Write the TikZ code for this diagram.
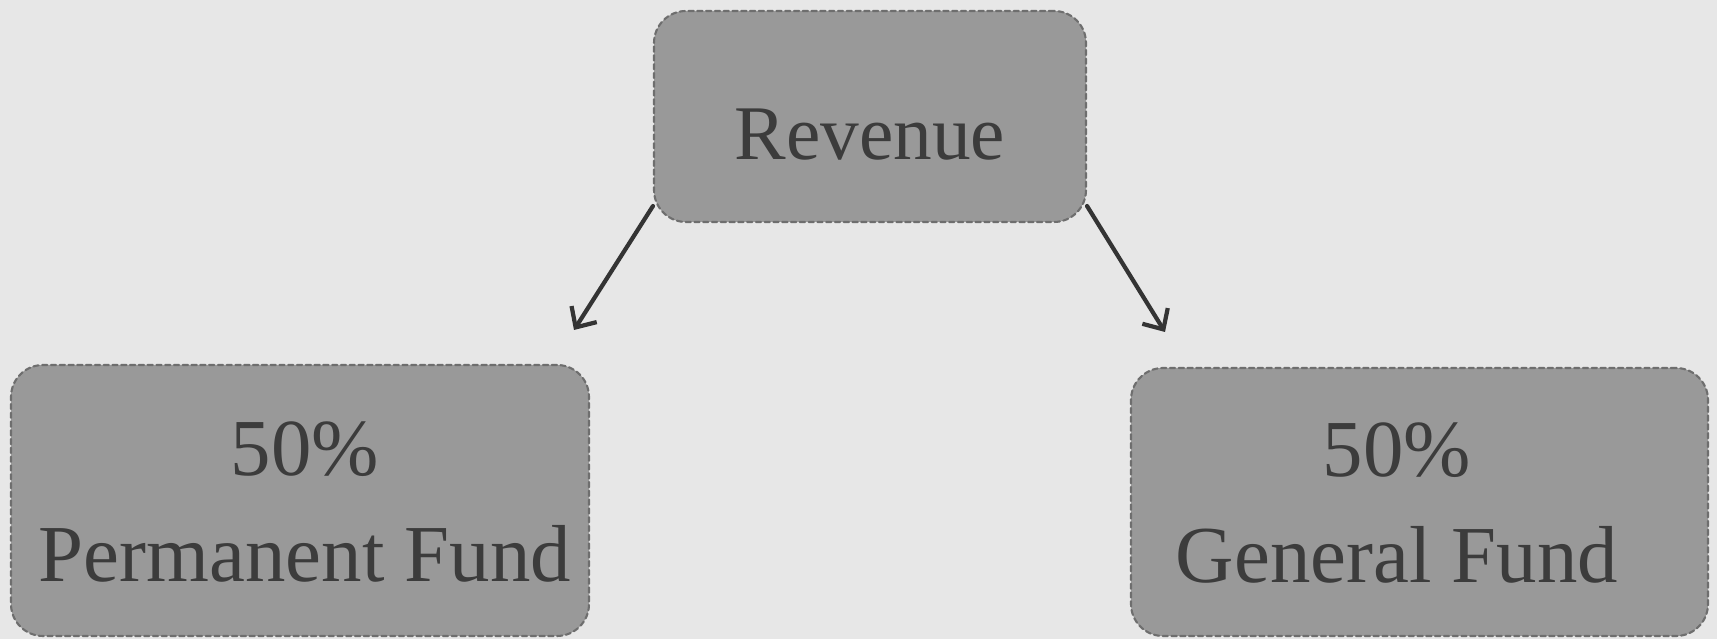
\documentclass[tikz,border=0pt]{standalone}
\usepackage{fontspec}
\setmainfont{Liberation Serif}
\usetikzlibrary{arrows.meta}
\definecolor{bgc}{HTML}{E7E7E7}
\definecolor{boxc}{HTML}{999999}
\definecolor{edgec}{HTML}{6E6E6E}
\definecolor{txtc}{HTML}{3C3C3C}
\definecolor{linec}{HTML}{343434}
\begin{document}
\begin{tikzpicture}[line join=round, line cap=round, >={Straight Barb[length=4.5pt,width=8.5pt]},
	fund/.style={draw=edgec, fill=boxc, dash pattern=on 1.5pt off 1pt, line width=.6pt, rounded corners=.32cm, inner sep=0pt},
	lbl/.style={text=txtc, align=center, inner sep=0pt, font=\fontsize{23}{30}\selectfont},
	flow/.style={->, line width=1.2pt, color=linec}]
	\def\W{17.17} \def\H{6.39}
	\fill[bgc] (0,0) rectangle (\W,-\H);
	\useasboundingbox (0,0) rectangle (\W,-\H);
	% boxes
	\node[fund, minimum width=4.32cm, minimum height=2.11cm] (rev) at (8.70,-1.165) {};
	\node[fund, minimum width=5.78cm, minimum height=2.71cm] (pf) at (3.00,-5.005) {};
	\node[fund, minimum width=5.77cm, minimum height=2.68cm] (gf) at (14.195,-5.02) {};
	% texts
	\node[lbl, font=\fontsize{22}{26}\selectfont] (revTxt) at (8.70,-1.35) {Revenue};
	\node[lbl] (pfTxt) at (3.05,-5.02) {50\%\\Permanent Fund};
	\node[lbl] (gfTxt) at (13.97,-5.03) {50\%\\General Fund};
	% arrows
	\coordinate (pfTip) at (5.74,-3.30);
	\coordinate (gfTip) at (11.65,-3.32);
	\draw[flow] ([yshift=.17cm]rev.south west) -- (pfTip);
	\draw[flow] ([yshift=.17cm]rev.south east) -- (gfTip);
\end{tikzpicture}
\end{document}
